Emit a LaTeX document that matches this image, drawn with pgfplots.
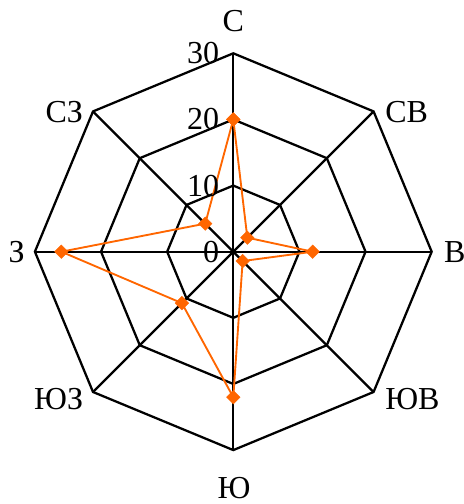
\documentclass[border=0pt]{standalone}
\usepackage{fontspec}
\setmainfont{Liberation Serif}
\usepackage{pgfplots}
\usepgfplotslibrary{polar}
\pgfplotsset{compat=1.18}
\definecolor{dataor}{HTML}{FF6600}
\begin{document}
\begin{tikzpicture}[x=0.75pt,y=0.75pt,font=\fontsize{24}{28}\selectfont]
\begin{polaraxis}[
  anchor=origin, at={(0,0)},
  scale only axis, width=297.6pt, height=297.6pt,
  ymin=0, ymax=30, xmin=0, xmax=360,
  hide axis, clip=false,
]
% grid octagons
\addplot[black, line width=1.7pt, line join=miter] coordinates {(0,30)(45,30)(90,30)(135,30)(180,30)(225,30)(270,30)(315,30)(360,30)(45,30)};
\addplot[black, line width=1.7pt, line join=miter] coordinates {(0,20)(45,20)(90,20)(135,20)(180,20)(225,20)(270,20)(315,20)(360,20)(45,20)};
\addplot[black, line width=1.7pt, line join=miter] coordinates {(0,10)(45,10)(90,10)(135,10)(180,10)(225,10)(270,10)(315,10)(360,10)(45,10)};
% spokes
\addplot[black, line width=1.7pt] coordinates {(0,30)(0,0)(180,30)};
\addplot[black, line width=1.7pt] coordinates {(45,30)(45,0)(225,30)};
\addplot[black, line width=1.7pt] coordinates {(90,30)(90,0)(270,30)};
\addplot[black, line width=1.7pt] coordinates {(135,30)(135,0)(315,30)};
% data: angle, value (N, NE, E, SE, S, SW, W, NW)
\addplot[dataor, line width=1.4pt, mark=square*, mark size=3.6pt,
  mark options={rotate=45, solid, fill=dataor, draw=dataor, line width=0.3pt}]
  coordinates {(90,20)(45,3)(0,12)(315,2)(270,22)(225,11)(180,26)(135,6)(90,20)};
\end{polaraxis}
% radial tick labels
\node[anchor=east, inner sep=0pt] at (-14,0) {0};
\node[anchor=east, inner sep=0pt] at (-14,66.1) {10};
\node[anchor=east, inner sep=0pt] at (-14,132.3) {20};
\node[anchor=east, inner sep=0pt] at (-14,198.4) {30};
% direction labels
\node[anchor=center, inner sep=0pt] at (0,231) {С};
\node[anchor=west, inner sep=0pt] at (151.7,140) {СВ};
\node[anchor=west, inner sep=0pt] at (210.5,0) {В};
\node[anchor=west, inner sep=0pt] at (151.7,-147) {ЮВ};
\node[anchor=center, inner sep=0pt] at (0.7,-236.3) {Ю};
\node[anchor=east, inner sep=0pt] at (-150,-147) {ЮЗ};
\node[anchor=east, inner sep=0pt] at (-208.3,0) {З};
\node[anchor=east, inner sep=0pt] at (-150,140) {СЗ};
\pgfresetboundingbox
\path[use as bounding box] (-233.3,-252.3) rectangle (230.7,251.7);
\end{tikzpicture}
\end{document}
